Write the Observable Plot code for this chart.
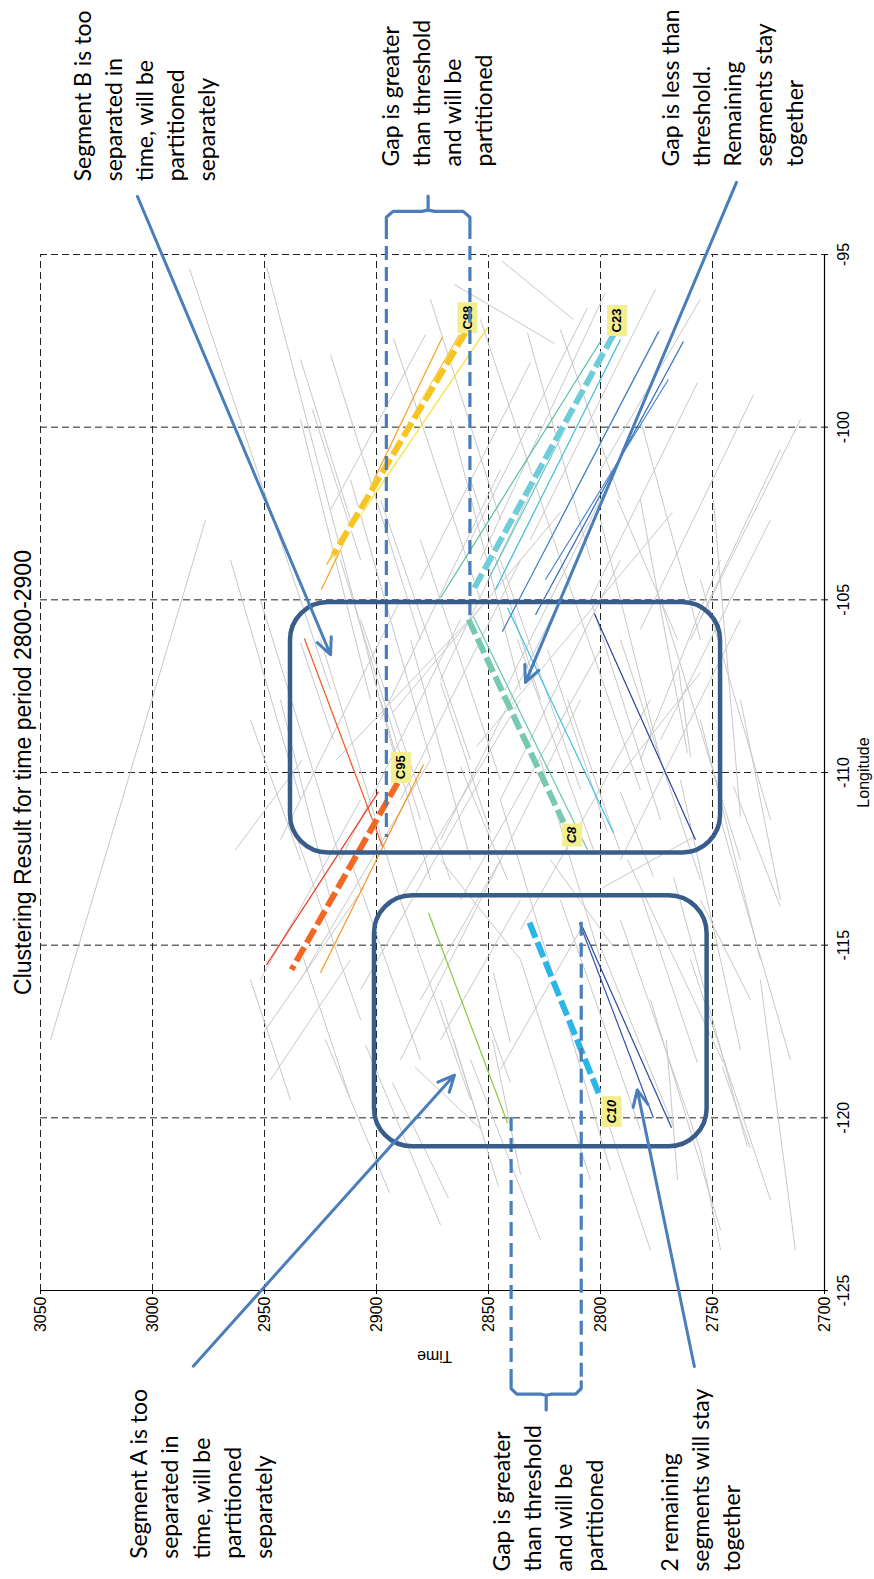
<!DOCTYPE html>
<html>
<head>
<meta charset="utf-8">
<script src="https://cdn.jsdelivr.net/npm/d3@7"></script>
<script src="https://cdn.jsdelivr.net/npm/@observablehq/plot@0.6"></script>
<style>
  html, body { margin: 0; padding: 0; background: #fff; }
  #page { width: 874px; height: 1579px; position: relative; overflow: hidden; background: #fff; }
  /* the chart is laid out in landscape and turned a quarter-turn counter-clockwise */
  #sheet { position: absolute; left: 0; top: 0; width: 1579px; height: 874px;
           transform-origin: 0 0; transform: translate(0px, 1579px) rotate(-90deg); }
</style>
</head>
<body>
<div id="page"><div id="sheet"></div></div>
<script>
// ---- axes ---------------------------------------------------------------
const lonTicks = [-125, -120, -115, -110, -105, -100, -95];
const timeTicks = [2700, 2750, 2800, 2850, 2900, 2950, 3000, 3050];

// ---- trajectory segments that belong to no highlighted cluster: [lon1, time1, lon2, time2]
const otherSegments = [
  [-95.41, 2983.5, -107.60, 2920.5], [-95.35, 2949.1, -109.63, 2891.5],
  [-95.20, 2843.8, -96.88, 2812.1],  [-95.87, 2865.2, -97.58, 2820.5],
  [-97.43, 2892.4, -105.00, 2853.6], [-97.90, 2920.5, -106.15, 2880.4],
  [-97.26, 2832.6, -103.84, 2804.5], [-97.32, 2878.1, -102.39, 2920.5],
  [-98.13, 2831.3, -104.42, 2880.4], [-96.54, 2805.8, -103.26, 2858.0],
  [-96.10, 2797.8, -103.84, 2853.6], [-96.01, 2775.5, -103.26, 2831.3],
  [-99.06, 2731.7, -105.86, 2782.2], [-98.71, 2756.7, -105.00, 2804.5],
  [-100.65, 2719.7, -106.15, 2759.8], [-100.07, 2817.9, -107.31, 2871.4],
  [-101.23, 2844.7, -108.47, 2898.2], [-100.94, 2791.1, -107.89, 2844.7],
  [-99.78, 2867.0, -107.60, 2835.7], [-99.78, 2933.9, -107.89, 2902.7],
  [-101.52, 2911.6, -109.63, 2875.9], [-99.78, 2782.2, -106.15, 2755.4],
  [-103.84, 2746.4, -109.63, 2782.2], [-102.68, 2800.0, -109.63, 2773.2],
  [-106.15, 2925.0, -113.69, 2889.3], [-105.57, 2907.1, -113.11, 2867.0],
  [-106.15, 2884.8, -112.53, 2858.0], [-107.40, 2871.4, -111.74, 2849.1],
  [-109.83, 2862.5, -113.11, 2841.5], [-106.15, 2837.1, -112.24, 2803.1],
  [-106.44, 2823.7, -111.74, 2796.9], [-107.89, 2814.7, -112.32, 2791.1],
  [-102.10, 2792.4, -106.15, 2765.6], [-102.10, 2782.2, -109.43, 2761.2],
  [-106.94, 2765.2, -109.54, 2759.8], [-110.56, 2791.1, -113.02, 2776.4],
  [-102.10, 2749.6, -111.28, 2737.5], [-111.86, 2758.1, -113.34, 2799.1],
  [-105.20, 2853.1, -109.63, 2917.9], [-102.47, 2817.9, -108.27, 2892.9],
  [-102.47, 2767.9, -109.25, 2855.4], [-107.11, 2755.4, -110.21, 2792.9],
  [-106.24, 2933.9, -109.05, 2919.2], [-107.89, 2835.7, -113.69, 2889.3],
  [-106.44, 2800.0, -113.69, 2862.5], [-107.89, 2777.7, -114.55, 2835.7],
  [-110.21, 2853.6, -116.29, 2907.1], [-109.63, 2875.9, -116.00, 2933.9],
  [-107.89, 2942.9, -113.69, 2920.5], [-108.47, 2956.3, -112.53, 2933.9],
  [-109.63, 2826.8, -115.42, 2800.0], [-110.79, 2844.7, -116.58, 2817.9],
  [-108.47, 2755.4, -115.42, 2728.6], [-110.21, 2764.3, -118.03, 2737.5],
  [-107.89, 2737.5, -113.69, 2719.7], [-107.89, 2898.2, -113.11, 2875.9],
  [-109.63, 2933.0, -112.24, 2963.0], [-113.31, 2905.4, -117.54, 2950.5],
  [-102.68, 2976.3, -117.74, 3045.5], [-112.53, 2871.4, -115.42, 2835.7],
  [-112.53, 2787.9, -118.41, 2745.1], [-113.48, 2782.2, -118.41, 2756.7],
  [-113.02, 2767.4, -120.84, 2734.4], [-115.05, 2800.0, -120.26, 2767.4],
  [-115.80, 2847.8, -117.83, 2840.2], [-117.36, 2849.1, -118.99, 2840.2],
  [-112.53, 2822.3, -115.05, 2794.2], [-116.58, 2871.4, -120.26, 2853.6],
  [-118.52, 2883.0, -120.35, 2853.1], [-117.74, 2922.8, -122.17, 2894.2],
  [-118.99, 2892.9, -122.32, 2867.9], [-117.74, 2865.6, -122.00, 2845.5],
  [-117.74, 2848.2, -121.65, 2835.7], [-117.74, 2770.6, -121.80, 2765.6],
  [-118.52, 2745.6, -120.87, 2733.1], [-117.89, 2904.9, -123.10, 2871.4],
  [-115.13, 2933.9, -119.48, 2911.6], [-116.00, 2956.3, -119.48, 2938.4],
  [-116.58, 2817.9, -121.51, 2795.6], [-119.48, 2800.0, -123.83, 2777.7],
  [-120.93, 2755.4, -123.83, 2746.4], [-115.42, 2911.6, -118.90, 2947.3],
  [-113.69, 2835.7, -117.74, 2871.4], [-114.55, 2808.9, -118.61, 2844.7],
  [-114.27, 2858.0, -118.32, 2889.3], [-110.41, 2740.6, -113.89, 2719.7],
  [-113.69, 2755.4, -116.58, 2733.1], [-98.04, 2933.9, -102.68, 2911.6],
  [-99.49, 2928.6, -103.84, 2907.1],
  [-103.84, 2965.2, -110.79, 2933.9], [-105.00, 2951.8, -112.53, 2916.1],
  [-103.84, 2916.1, -111.37, 2880.4], [-102.10, 2898.2, -109.63, 2858.0],
  [-103.26, 2880.4, -110.21, 2844.7], [-101.52, 2858.0, -107.89, 2826.8],
  [-103.84, 2844.7, -110.50, 2808.9], [-103.84, 2817.9, -110.50, 2782.2],
  [-105.00, 2804.5, -111.37, 2773.2], [-106.15, 2791.1, -113.11, 2755.4],
  [-105.00, 2773.2, -112.53, 2737.5], [-104.42, 2755.4, -111.37, 2724.1],
  [-111.37, 2746.4, -118.32, 2715.2], [-115.42, 2759.8, -122.38, 2724.1],
  [-116.58, 2777.7, -123.25, 2746.4], [-114.27, 2791.1, -120.93, 2755.4],
  [-113.69, 2817.9, -120.35, 2782.2], [-115.42, 2835.7, -121.80, 2804.5],
  [-118.32, 2858.0, -123.54, 2826.8], [-113.69, 2889.3, -119.48, 2858.0],
  [-112.53, 2911.6, -118.32, 2880.4], [-111.37, 2938.4, -117.16, 2907.1],
  [-116.00, 2728.6, -123.83, 2713.0], [-96.30, 2875.9, -102.68, 2844.7],
  [-96.88, 2853.6, -103.84, 2817.9], [-97.17, 2817.9, -102.10, 2791.1],
  [-99.78, 2710.7, -105.57, 2755.4], [-102.68, 2724.1, -109.05, 2773.2],
  [-105.57, 2737.5, -112.53, 2791.1], [-97.17, 2773.2, -102.68, 2817.9],
  [-96.30, 2755.4, -101.23, 2800.0], [-105.00, 2817.9, -111.95, 2871.4],
  [-103.84, 2835.7, -110.79, 2889.3], [-105.57, 2862.5, -112.53, 2916.1],
  [-105.00, 2889.3, -111.95, 2942.9], [-103.84, 2791.1, -110.79, 2844.7],
  [-107.89, 2808.9, -114.27, 2858.0], [-112.53, 2844.7, -116.58, 2880.4],
  [-110.79, 2907.1, -116.00, 2951.8]
];

// ---- member segments of the highlighted clusters
const memberSegments = [
  {trace: "C88-a", lon1: -97.38, t1: 2870.5, lon2: -104.70, t2: 2924.6},
  {trace: "C88-b", lon1: -97.32, t1: 2862.9, lon2: -103.98, t2: 2922.3},
  {trace: "C88-c", lon1: -97.11, t1: 2850.4, lon2: -103.84, t2: 2920.5},
  {trace: "C23-a", lon1: -97.52, t1: 2800.0, lon2: -104.94, t2: 2871.4},
  {trace: "C23-b", lon1: -97.46, t1: 2791.1, lon2: -104.70, t2: 2846.9},
  {trace: "C23-c", lon1: -97.75, t1: 2797.8, lon2: -104.42, t2: 2850.1},
  {trace: "C23-d", lon1: -97.23, t1: 2774.1, lon2: -105.92, t2: 2843.8},
  {trace: "C23-e", lon1: -97.52, t1: 2763.0, lon2: -105.43, t2: 2829.0},
  {trace: "C23-f", lon1: -98.62, t1: 2769.7, lon2: -104.42, t2: 2824.6},
  {trace: "C8-a",  lon1: -105.49, t1: 2856.7, lon2: -112.24, t2: 2805.8},
  {trace: "C8-b",  lon1: -105.23, t1: 2841.5, lon2: -111.75, t2: 2794.2},
  {trace: "C8-c",  lon1: -105.40, t1: 2802.7, lon2: -111.95, t2: 2757.6},
  {trace: "C95-a", lon1: -110.56, t1: 2899.1, lon2: -115.57, t2: 2949.1},
  {trace: "C95-b", lon1: -109.77, t1: 2879.0, lon2: -115.80, t2: 2925.0},
  {trace: "C95-B", lon1: -106.12, t1: 2932.2, lon2: -112.15, t2: 2897.3},
  {trace: "C10-A", lon1: -114.06, t1: 2876.8, lon2: -120.15, t2: 2841.5},
  {trace: "C10-a", lon1: -114.35, t1: 2809.4, lon2: -120.00, t2: 2776.4},
  {trace: "C10-b", lon1: -114.47, t1: 2808.1, lon2: -120.29, t2: 2768.3}
];

// ---- representative trajectory of each cluster
const representatives = [
  {id: "C88", lon1: -97.26,  t1: 2860.3, lon2: -103.69, t2: 2919.2},
  {id: "C23", lon1: -97.32,  t1: 2794.2, lon2: -104.76, t2: 2857.2},
  {id: "C8",  lon1: -105.57, t1: 2858.9, lon2: -111.45, t2: 2816.5},
  {id: "C95", lon1: -110.30, t1: 2890.6, lon2: -115.71, t2: 2937.95},
  {id: "C10", lon1: -114.35, t1: 2831.7, lon2: -119.42, t2: 2800.0}
];

// ---- cluster tags
const clusterTags = [
  {id: "C88", lon: -96.83,  time: 2859.4},
  {id: "C23", lon: -96.91,  time: 2792.6},
  {id: "C95", lon: -109.85, time: 2889.1},
  {id: "C8",  lon: -111.81, time: 2812.6},
  {id: "C10", lon: -119.82, time: 2795.0}
];

// ---- regions under discussion
const regions = [
  {lon1: -105.05, lon2: -112.30, t1: 2938.4, t2: 2746.4},
  {lon1: -113.54, lon2: -120.81, t1: 2900.9, t2: 2752.4}
];

// ---- time gaps: dashed markers and their braces
const gapMarkers = [
  {time: 2895.6, lonFrom: -94.13,  lonTo: -111.85},
  {time: 2858.3, lonFrom: -94.13,  lonTo: -105.43},
  {time: 2839.9, lonFrom: -119.96, lonTo: -127.64},
  {time: 2808.6, lonFrom: -114.31, lonTo: -127.64}
];
const braces = [
  {tA: 2895.6, tB: 2858.3, lonEdge: -94.13,  lonBar: -93.75,  lonTip: -93.31},
  {tA: 2839.9, tB: 2808.6, lonEdge: -127.64, lonBar: -128.00, lonTip: -128.46}
];

// ---- callout arrows: from note to target
const callouts = [
  {lon1: -93.32,  t1: 3006.7, lon2: -106.59, t2: 2920.5},
  {lon1: -92.91,  t1: 2739.3, lon2: -107.39, t2: 2833.5},
  {lon1: -127.19, t1: 2981.8, lon2: -118.76, t2: 2865.2},
  {lon1: -127.20, t1: 2758.1, lon2: -119.19, t2: 2783.6}
];

// ---- notes
const notes = [
  {text: "Segment B is too\nseparated in\ntime, will be\npartitioned\nseparately", lon: -92.88, time: 3037.5},
  {text: "Gap is greater\nthan threshold\nand will be\npartitioned", lon: -92.45, time: 2900.0},
  {text: "Gap is less than\nthreshold.\nRemaining\nsegments stay\ntogether", lon: -92.45, time: 2775.0},
  {text: "Segment A is too\nseparated in\ntime, will be\npartitioned\nseparately", lon: -132.77, time: 3012.1},
  {text: "Gap is greater\nthan threshold\nand will be\npartitioned", lon: -133.14, time: 2850.4},
  {text: "2 remaining\nsegments will stay\ntogether", lon: -133.14, time: 2775.4}
];

// ---- titles
const headings = [
  {text: "Clustering Result for time period 2800-2900", lon: -110.0, time: 3057.6, rotate: 0, size: 23, font: "Lato"},
  {text: "Longitude", lon: -110.0, time: 2682.4, rotate: 0, size: 16, font: "Liberation Sans"},
  {text: "Time", lon: -126.89, time: 2874.1, rotate: -90, size: 16, font: "Liberation Sans"}
];

// ---- styling
const repColor = {C88: "#F6C51F", C23: "#6ECDD9", C8: "#77C9B2", C95: "#F26722", C10: "#2CB5E8"};
const traceColor = {
  "C88-a": "#F5A21C", "C88-b": "#F0B91A", "C88-c": "#FBE032",
  "C23-a": "#55BE9E", "C23-b": "#3CBDE0", "C23-c": "#67C7B5",
  "C23-d": "#3A7BC8", "C23-e": "#2E68B8", "C23-f": "#4A86CE",
  "C8-a": "#62C9B0", "C8-b": "#3FC0E6", "C8-c": "#2C3F99",
  "C95-a": "#EE3B24", "C95-b": "#F7941D", "C95-B": "#F05A22",
  "C10-A": "#8CC63F", "C10-a": "#3451A8", "C10-b": "#2A47A0"
};
const calloutBlue = "#4A7EBB";
const frameBlue = "#385D8A";

// rectangular tag shape for cluster ids
const tag = (w, h) => ({draw(context) { context.rect(-w / 2, -h / 2, w, h); }});

// brace outline built from its gap times
function bracePath(b) {
  const mid = (b.tA + b.tB) / 2;
  const dl = (b.lonBar - b.lonEdge) * 0.45;
  const dt = (b.tB - b.tA) * 0.08;
  return [
    [b.lonEdge, b.tA], [b.lonBar - dl, b.tA], [b.lonBar, b.tA + dt],
    [b.lonBar, mid - dt], [b.lonBar + dl * 0.2, mid], [b.lonTip, mid],
    [b.lonBar + dl * 0.2, mid], [b.lonBar, mid + dt],
    [b.lonBar, b.tB - dt], [b.lonBar - dl, b.tB], [b.lonEdge, b.tB]
  ].map(([lon, time]) => ({lon, time}));
}

const seg = {x1: "lon1", y1: "t1", x2: "lon2", y2: "t2"};

const chart = Plot.plot({
  width: 1579,
  height: 874,
  marginLeft: 288,
  marginRight: 255,
  marginTop: 40,
  marginBottom: 50,
  x: {domain: [-125, -95]},
  y: {domain: [2700, 3050]},
  style: {fontFamily: "'Liberation Sans', Arial, sans-serif", fontSize: "16px", background: "white", color: "black"},
  marks: [
    // dashed grid
    Plot.ruleY(timeTicks.filter(t => t !== 2700), {stroke: "#222", strokeWidth: 1, strokeDasharray: "7,4"}),
    Plot.ruleX(lonTicks.filter(l => l !== -125), {stroke: "#222", strokeWidth: 1, strokeDasharray: "7,4"}),
    // every other trajectory segment
    Plot.link(otherSegments, {x1: d => d[0], y1: d => d[1], x2: d => d[2], y2: d => d[3], stroke: "#c8c8c8", strokeWidth: 1}),
    // cluster members
    Plot.link(memberSegments, {...seg, stroke: d => traceColor[d.trace], strokeWidth: 1.2}),
    // representative trajectories
    Plot.link(representatives, {...seg, stroke: "white", strokeWidth: 6.5}),
    Plot.link(representatives, {...seg, stroke: d => repColor[d.id], strokeWidth: 6, strokeDasharray: "16,5"}),
    // cluster tags
    Plot.dot(clusterTags.filter(d => d.id.length === 3), {x: "lon", y: "time", symbol: tag(31, 20), fill: "#F3EF8E", stroke: "none"}),
    Plot.dot(clusterTags.filter(d => d.id.length === 2), {x: "lon", y: "time", symbol: tag(23, 20), fill: "#F3EF8E", stroke: "none"}),
    Plot.text(clusterTags.filter(d => d.id !== "C8" && d.id !== "C10"), {x: "lon", y: "time", text: "id", fontWeight: "bold", fontSize: 13, fill: "black"}),
    Plot.text(clusterTags.filter(d => d.id === "C8" || d.id === "C10"), {x: "lon", y: "time", text: "id", fontWeight: "bold", fontStyle: "italic", fontSize: 13, fill: "black"}),
    // axes
    Plot.ruleX([-125], {stroke: "black", strokeWidth: 1.2}),
    Plot.ruleY([2700], {stroke: "black", strokeWidth: 1.2}),
    Plot.axisX(lonTicks, {tickSize: 4, tickPadding: 9, tickFormat: d => String(d), label: null}),
    Plot.axisY(timeTicks, {tickSize: 3, tickPadding: 3, tickFormat: d => String(d), label: null}),
    // gap markers and braces
    Plot.ruleY(gapMarkers, {y: "time", x1: "lonFrom", x2: "lonTo", stroke: calloutBlue, strokeWidth: 3.2, strokeDasharray: "14,7"}),
    ...braces.map(b => Plot.line(bracePath(b), {x: "lon", y: "time", stroke: calloutBlue, strokeWidth: 3.2, strokeLinejoin: "round"})),
    // regions
    Plot.rect(regions, {x1: "lon1", x2: "lon2", y1: "t1", y2: "t2", rx: 38, ry: 38, fill: "none", stroke: frameBlue, strokeWidth: 4.5}),
    // callouts
    Plot.arrow(callouts, {...seg, stroke: calloutBlue, strokeWidth: 3, headLength: 9, headAngle: 50}),
    Plot.text(notes, {x: "lon", y: "time", text: "text", textAnchor: "start", lineAnchor: "top", fontFamily: "Lato", fontSize: 23, lineHeight: 1.35, fill: "black"}),
    // titles
    Plot.text(headings, {x: "lon", y: "time", text: "text", rotate: "rotate", fontSize: "size", fontFamily: d => d.font, fill: "black", lineAnchor: "middle"})
  ]
});

document.getElementById("sheet").appendChild(chart);
</script>
</body>
</html>
